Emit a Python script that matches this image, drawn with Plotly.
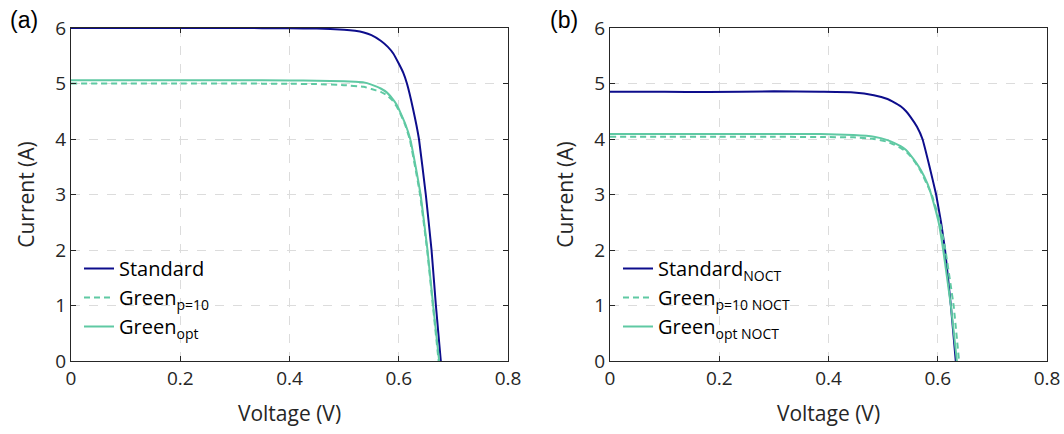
import plotly.graph_objects as go

# ---------- data ----------
# Panel (a): standard conditions
v_std = [0, 0.1, 0.2, 0.3, 0.4, 0.45, 0.5, 0.52, 0.536, 0.55, 0.567, 0.58, 0.59, 0.6, 0.608, 0.615, 0.626, 0.637, 0.6495, 0.66, 0.668, 0.677]
i_std = [6.0, 6.0, 6.0, 6.0, 5.995, 5.99, 5.97, 5.95, 5.92, 5.87, 5.77, 5.66, 5.54, 5.36, 5.2, 5.0, 4.55, 4.0, 3.0, 2.0, 1.0, 0.0]

v_gp10 = [0, 0.1, 0.2, 0.3, 0.4, 0.45, 0.5, 0.536, 0.55, 0.567, 0.578, 0.588, 0.596, 0.6024, 0.612, 0.62, 0.63, 0.639, 0.652, 0.6625, 0.673]
i_gp10 = [5.0, 5.0, 5.0, 5.0, 4.995, 4.99, 4.97, 4.94, 4.90, 4.85, 4.79, 4.70, 4.59, 4.47, 4.25, 4.0, 3.5, 3.0, 2.0, 1.0, 0.0]

v_gopt = [0, 0.1, 0.2, 0.3, 0.4, 0.45, 0.5, 0.52, 0.536, 0.55, 0.567, 0.578, 0.588, 0.596, 0.6024, 0.612, 0.621, 0.631, 0.640, 0.6526, 0.663, 0.674]
i_gopt = [5.06, 5.06, 5.06, 5.06, 5.055, 5.05, 5.04, 5.03, 5.02, 4.98, 4.91, 4.84, 4.73, 4.62, 4.49, 4.27, 4.0, 3.5, 3.0, 2.0, 1.0, 0.0]

# Panel (b): NOCT conditions
v_std_n = [0, 0.1, 0.18, 0.3, 0.385, 0.446, 0.483, 0.508, 0.52, 0.532, 0.542, 0.55, 0.562, 0.572, 0.585, 0.597, 0.606, 0.6134, 0.624, 0.633]
i_std_n = [4.85, 4.85, 4.845, 4.86, 4.85, 4.84, 4.79, 4.72, 4.66, 4.59, 4.50, 4.40, 4.22, 4.0, 3.5, 3.0, 2.5, 2.0, 1.0, 0.0]

v_gp10_n = [0, 0.1, 0.2, 0.3, 0.385, 0.446, 0.483, 0.508, 0.52, 0.532, 0.542, 0.55, 0.56, 0.569, 0.581, 0.589, 0.604, 0.614, 0.629, 0.639]
i_gp10_n = [4.04, 4.04, 4.04, 4.04, 4.035, 4.03, 4.0, 3.95, 3.90, 3.84, 3.77, 3.69, 3.56, 3.42, 3.17, 3.0, 2.5, 2.0, 1.0, 0.0]

v_gopt_n = [0, 0.1, 0.2, 0.3, 0.385, 0.446, 0.483, 0.508, 0.52, 0.532, 0.542, 0.55, 0.56, 0.569, 0.581, 0.588, 0.596, 0.602, 0.610, 0.624, 0.635]
i_gopt_n = [4.09, 4.09, 4.09, 4.09, 4.09, 4.07, 4.04, 3.98, 3.93, 3.87, 3.80, 3.71, 3.58, 3.44, 3.20, 3.0, 2.72, 2.48, 2.0, 1.0, 0.0]

x_ticks = [0, 0.2, 0.4, 0.6, 0.8]
y_ticks = [0, 1, 2, 3, 4, 5, 6]

# ---------- styles ----------
NAVY = "#0d0d8c"
GREEN = "#5fc9a3"
FONT = "Open Sans"

fig = go.Figure()

def add(x, y, name, color, dash, xa, ya, legend):
    fig.add_trace(go.Scatter(
        x=x, y=y, name=name, mode="lines",
        line=dict(color=color, width=2, dash=dash, shape="spline", smoothing=0.3),
        xaxis=xa, yaxis=ya, legend=legend))

add(v_std, i_std, "Standard", NAVY, "solid", "x", "y", "legend")
add(v_gp10, i_gp10, "Green<sub>p=10</sub>", GREEN, "6px,4px", "x", "y", "legend")
add(v_gopt, i_gopt, "Green<sub>opt</sub>", GREEN, "solid", "x", "y", "legend")

add(v_std_n, i_std_n, "Standard<sub>NOCT</sub>", NAVY, "solid", "x2", "y2", "legend2")
add(v_gp10_n, i_gp10_n, "Green<sub>p=10 NOCT</sub>", GREEN, "6px,4px", "x2", "y2", "legend2")
add(v_gopt_n, i_gopt_n, "Green<sub>opt NOCT</sub>", GREEN, "solid", "x2", "y2", "legend2")

W, H = 1064, 434
px = lambda x: x / W
py = lambda y: 1 - y / H

y_dom = [py(361), py(28)]

xaxis_common = dict(
    range=[0, 0.8], tickvals=x_ticks, ticktext=[str(t) for t in x_ticks],
    showline=True, linecolor="#262626", linewidth=1.2, mirror="ticks",
    ticks="inside", ticklen=5, tickcolor="#262626",
    showgrid=True, gridcolor="#dcdcdc", griddash="dash", gridwidth=1,
    zeroline=False, automargin=False,
    tickfont=dict(family=FONT, size=19, color="#262626"),
    title=dict(text="Voltage (V)", font=dict(family=FONT, size=21, color="#262626"), standoff=16),
)
yaxis_common = dict(
    range=[0, 6], tickvals=y_ticks,
    showline=True, linecolor="#262626", linewidth=1.2, mirror="ticks",
    ticks="inside", ticklen=5, tickcolor="#262626",
    showgrid=True, gridcolor="#dcdcdc", griddash="dash", gridwidth=1,
    zeroline=False, automargin=False,
    tickfont=dict(family=FONT, size=19, color="#262626"),
    title=dict(text="Current (A)", font=dict(family=FONT, size=21, color="#262626"), standoff=14),
)

legend_common = dict(
    bgcolor="rgba(0,0,0,0)", borderwidth=0,
    font=dict(family=FONT, size=20, color="#000000"),
    itemwidth=30, xanchor="left", yanchor="bottom", tracegroupgap=0,
)

fig.update_layout(
    width=W, height=H,
    margin=dict(l=0, r=0, t=0, b=0, autoexpand=False),
    paper_bgcolor="white", plot_bgcolor="white",
    xaxis=dict(domain=[px(71), px(508)], anchor="y", **xaxis_common),
    yaxis=dict(domain=y_dom, anchor="x", **yaxis_common),
    xaxis2=dict(domain=[px(610), px(1047)], anchor="y2", **xaxis_common),
    yaxis2=dict(domain=y_dom, anchor="x2", **yaxis_common),
    legend=dict(x=px(79), y=py(346), **legend_common),
    legend2=dict(x=px(618), y=py(346), **legend_common),
    showlegend=True,
    annotations=[
        dict(text="(a)", x=px(8), y=py(20), xref="paper", yref="paper",
             showarrow=False, xanchor="left", yanchor="middle",
             font=dict(family="Liberation Sans", size=23, color="black")),
        dict(text="(b)", x=px(548), y=py(20), xref="paper", yref="paper",
             showarrow=False, xanchor="left", yanchor="middle",
             font=dict(family="Liberation Sans", size=23, color="black")),
    ],
)

fig.write_html(
    "out.html",
    config={"displayModeBar": False},
    post_script="document.body.style.margin='0';document.body.style.overflow='hidden';",
)
